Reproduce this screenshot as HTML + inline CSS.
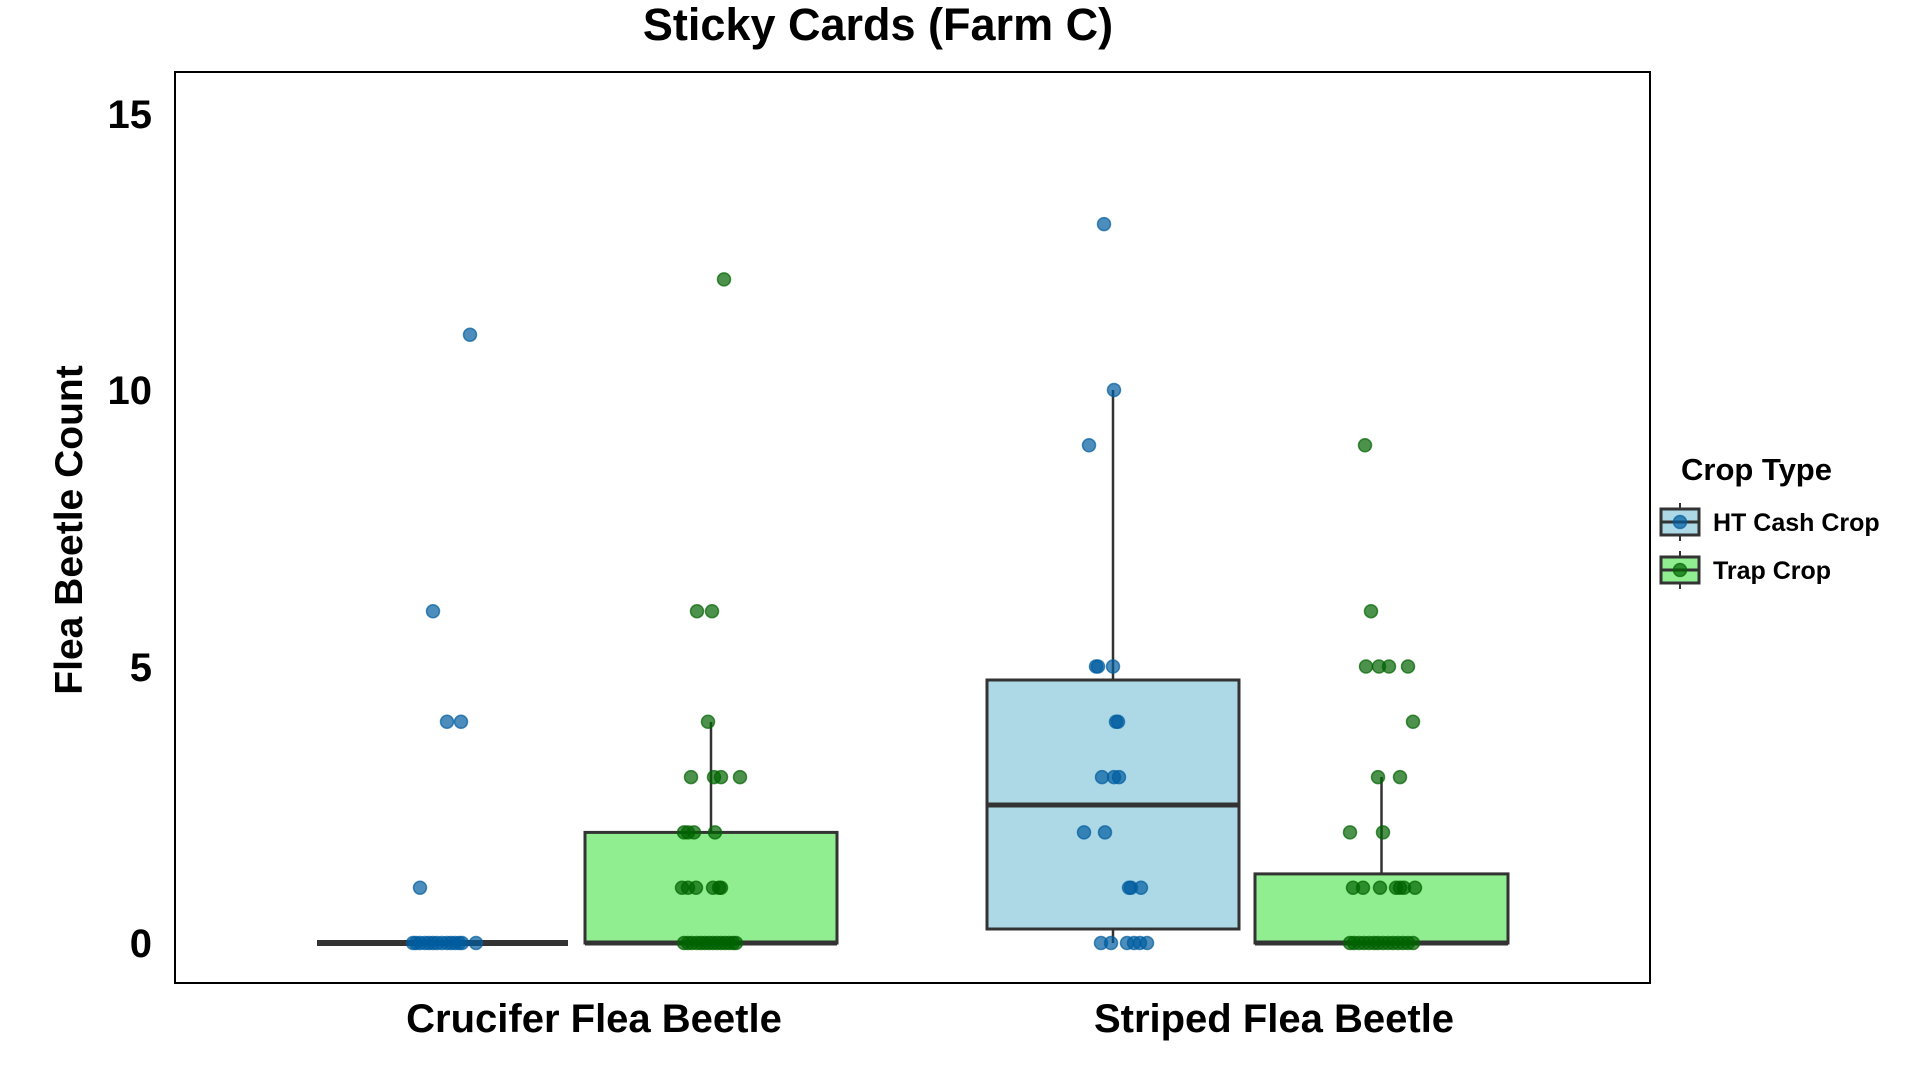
<!DOCTYPE html>
<html>
<head>
<meta charset="utf-8">
<style>
html,body{margin:0;padding:0;background:#fff;}
svg{display:block;}
text{font-family:"Liberation Sans",Arial,sans-serif;font-weight:bold;fill:#000;}
.bl circle,circle.bl{fill:#005da0;fill-opacity:0.7;stroke:#005da0;stroke-opacity:0.7;stroke-width:1.5;}
.gr circle,circle.gr{fill:#006400;fill-opacity:0.7;stroke:#006400;stroke-opacity:0.7;stroke-width:1.5;}
</style>
</head>
<body>
<svg width="1920" height="1080" viewBox="0 0 1920 1080" xmlns="http://www.w3.org/2000/svg">
<rect x="0" y="0" width="1920" height="1080" fill="#fff"/>
<text x="878" y="40" font-size="45" text-anchor="middle">Sticky Cards (Farm C)</text>
<rect x="175" y="72" width="1475" height="911" fill="#fff" stroke="#000" stroke-width="2"/>
<text x="152" y="957" font-size="40" text-anchor="end">0</text>
<text x="152" y="681" font-size="40" text-anchor="end">5</text>
<text x="152" y="404" font-size="40" text-anchor="end">10</text>
<text x="152" y="128" font-size="40" text-anchor="end">15</text>
<text transform="translate(82,530) rotate(-90)" font-size="39" text-anchor="middle">Flea Beetle Count</text>
<text x="594" y="1032" font-size="40" text-anchor="middle">Crucifer Flea Beetle</text>
<text x="1274" y="1032" font-size="40" text-anchor="middle">Striped Flea Beetle</text>
<g stroke="#333333" fill="none">
<line x1="317" y1="943" x2="568" y2="943" stroke-width="6"/>
<line x1="711" y1="832" x2="711" y2="722" stroke-width="2.5"/>
<rect x="585" y="832.4" width="252" height="110.6" fill="#90EE90" stroke-width="3"/>
<line x1="585" y1="943" x2="837" y2="943" stroke-width="5"/>
<line x1="1113" y1="680" x2="1113" y2="390" stroke-width="2.5"/>
<line x1="1113" y1="929" x2="1113" y2="943" stroke-width="2.5"/>
<rect x="987" y="680" width="252" height="249" fill="#ADD8E6" stroke-width="3"/>
<line x1="987" y1="805" x2="1239" y2="805" stroke-width="5"/>
<line x1="1381.5" y1="874" x2="1381.5" y2="777" stroke-width="2.5"/>
<rect x="1255" y="873.9" width="253" height="69.1" fill="#90EE90" stroke-width="3"/>
<line x1="1255" y1="943" x2="1508" y2="943" stroke-width="5"/>
</g>
<g class="bl">
<circle cx="470" cy="334.7" r="6.5"/><circle cx="433" cy="611.2" r="6.5"/><circle cx="447" cy="721.8" r="6.5"/><circle cx="461" cy="721.8" r="6.5"/><circle cx="420" cy="887.7" r="6.5"/>
<circle cx="413" cy="943" r="6.5"/><circle cx="416" cy="943" r="6.5"/><circle cx="420" cy="943" r="6.5"/><circle cx="425" cy="943" r="6.5"/><circle cx="429" cy="943" r="6.5"/><circle cx="433" cy="943" r="6.5"/><circle cx="437" cy="943" r="6.5"/><circle cx="442" cy="943" r="6.5"/><circle cx="447" cy="943" r="6.5"/><circle cx="451" cy="943" r="6.5"/><circle cx="455" cy="943" r="6.5"/><circle cx="459" cy="943" r="6.5"/><circle cx="462" cy="943" r="6.5"/><circle cx="476" cy="943" r="6.5"/>
<circle cx="1104" cy="224.1" r="6.5"/><circle cx="1114" cy="390" r="6.5"/><circle cx="1089" cy="445.3" r="6.5"/><circle cx="1096" cy="666.5" r="6.5"/><circle cx="1098" cy="666.5" r="6.5"/><circle cx="1113" cy="666.5" r="6.5"/><circle cx="1116" cy="721.8" r="6.5"/><circle cx="1118" cy="721.8" r="6.5"/><circle cx="1102" cy="777.1" r="6.5"/><circle cx="1114" cy="777.1" r="6.5"/><circle cx="1119" cy="777.1" r="6.5"/><circle cx="1084" cy="832.4" r="6.5"/><circle cx="1105" cy="832.4" r="6.5"/><circle cx="1129" cy="887.7" r="6.5"/><circle cx="1131" cy="887.7" r="6.5"/><circle cx="1141" cy="887.7" r="6.5"/>
<circle cx="1101" cy="943" r="6.5"/><circle cx="1111" cy="943" r="6.5"/><circle cx="1127" cy="943" r="6.5"/><circle cx="1134" cy="943" r="6.5"/><circle cx="1140" cy="943" r="6.5"/><circle cx="1147" cy="943" r="6.5"/>
</g>
<g class="gr">
<circle cx="724" cy="279.4" r="6.5"/><circle cx="697" cy="611.2" r="6.5"/><circle cx="712" cy="611.2" r="6.5"/><circle cx="708" cy="721.8" r="6.5"/><circle cx="691" cy="777.1" r="6.5"/><circle cx="714" cy="777.1" r="6.5"/><circle cx="721" cy="777.1" r="6.5"/><circle cx="740" cy="777.1" r="6.5"/><circle cx="684" cy="832.4" r="6.5"/><circle cx="688" cy="832.4" r="6.5"/><circle cx="694" cy="832.4" r="6.5"/><circle cx="715" cy="832.4" r="6.5"/><circle cx="682" cy="887.7" r="6.5"/><circle cx="688" cy="887.7" r="6.5"/><circle cx="696" cy="887.7" r="6.5"/><circle cx="713" cy="887.7" r="6.5"/><circle cx="719" cy="887.7" r="6.5"/><circle cx="721" cy="887.7" r="6.5"/>
<circle cx="684" cy="943" r="6.5"/><circle cx="688" cy="943" r="6.5"/><circle cx="692" cy="943" r="6.5"/><circle cx="697" cy="943" r="6.5"/><circle cx="701" cy="943" r="6.5"/><circle cx="705" cy="943" r="6.5"/><circle cx="709" cy="943" r="6.5"/><circle cx="713" cy="943" r="6.5"/><circle cx="717" cy="943" r="6.5"/><circle cx="721" cy="943" r="6.5"/><circle cx="725" cy="943" r="6.5"/><circle cx="729" cy="943" r="6.5"/><circle cx="733" cy="943" r="6.5"/><circle cx="736" cy="943" r="6.5"/>
<circle cx="1365" cy="445.3" r="6.5"/><circle cx="1371" cy="611.2" r="6.5"/><circle cx="1366" cy="666.5" r="6.5"/><circle cx="1379" cy="666.5" r="6.5"/><circle cx="1389" cy="666.5" r="6.5"/><circle cx="1408" cy="666.5" r="6.5"/><circle cx="1413" cy="721.8" r="6.5"/><circle cx="1378" cy="777.1" r="6.5"/><circle cx="1400" cy="777.1" r="6.5"/><circle cx="1350" cy="832.4" r="6.5"/><circle cx="1383" cy="832.4" r="6.5"/><circle cx="1353" cy="887.7" r="6.5"/><circle cx="1363" cy="887.7" r="6.5"/><circle cx="1380" cy="887.7" r="6.5"/><circle cx="1396" cy="887.7" r="6.5"/><circle cx="1400" cy="887.7" r="6.5"/><circle cx="1404" cy="887.7" r="6.5"/><circle cx="1415" cy="887.7" r="6.5"/>
<circle cx="1350" cy="943" r="6.5"/><circle cx="1354" cy="943" r="6.5"/><circle cx="1359" cy="943" r="6.5"/><circle cx="1364" cy="943" r="6.5"/><circle cx="1369" cy="943" r="6.5"/><circle cx="1374" cy="943" r="6.5"/><circle cx="1378" cy="943" r="6.5"/><circle cx="1383" cy="943" r="6.5"/><circle cx="1388" cy="943" r="6.5"/><circle cx="1393" cy="943" r="6.5"/><circle cx="1398" cy="943" r="6.5"/><circle cx="1403" cy="943" r="6.5"/><circle cx="1408" cy="943" r="6.5"/><circle cx="1413" cy="943" r="6.5"/>
</g>
<text x="1681" y="480" font-size="31">Crop Type</text>
<g stroke="#333333">
<line x1="1680" y1="503" x2="1680" y2="541" stroke-width="2"/>
<rect x="1661" y="509" width="38" height="26" fill="#ADD8E6" stroke-width="3"/>
<line x1="1661" y1="522" x2="1699" y2="522" stroke-width="3"/>
<line x1="1680" y1="551" x2="1680" y2="589" stroke-width="2"/>
<rect x="1661" y="557" width="38" height="26" fill="#90EE90" stroke-width="3"/>
<line x1="1661" y1="570" x2="1699" y2="570" stroke-width="3"/>
</g>
<circle class="bl" cx="1680" cy="522" r="6.5"/>
<circle class="gr" cx="1680" cy="570" r="6.5"/>
<text x="1713" y="531" font-size="25">HT Cash Crop</text>
<text x="1713" y="579" font-size="25">Trap Crop</text>
</svg>
</body>
</html>
